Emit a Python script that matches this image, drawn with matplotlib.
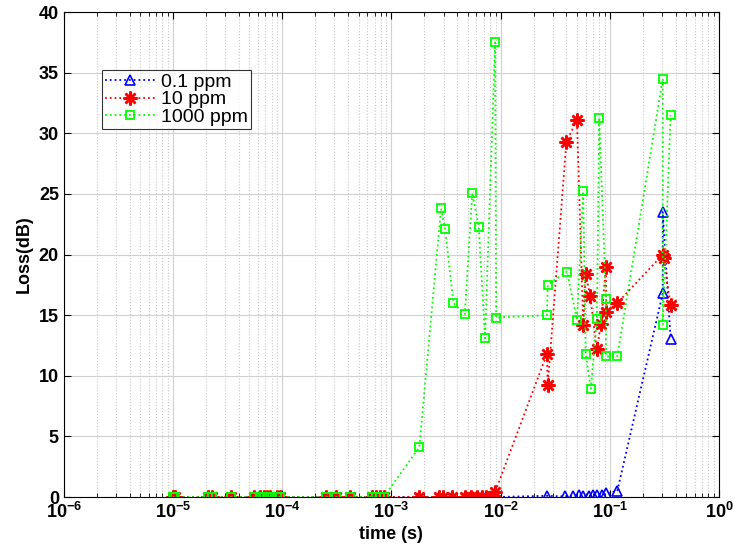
import matplotlib
matplotlib.use('Agg')
import matplotlib.pyplot as plt
import numpy as np

plt.rcParams['font.family'] = ['Liberation Sans', 'DejaVu Sans']

# shared sampling times at the start of each run (loss stays at zero)
t_early = [1.0e-5, 1.05e-5, 2.1e-5, 2.3e-5, 3.4e-5, 5.5e-5, 6.2e-5, 6.8e-5,
           7.2e-5, 7.8e-5, 9.0e-5, 9.5e-5, 2.5e-4, 3.1e-4, 4.2e-4, 6.7e-4,
           7.3e-4, 7.8e-4, 8.5e-4]
loss_early = [0.0] * len(t_early)

t_01 = t_early + [1.8e-3, 2.7e-3, 3.6e-3, 4.7e-3, 6.1e-3, 7.4e-3, 8.9e-3,
                  2.65e-2, 3.9e-2, 4.6e-2, 5.2e-2, 5.7e-2, 6.4e-2, 7.0e-2,
                  7.6e-2, 8.4e-2, 9.2e-2, 1.17e-1, 0.305, 0.305, 0.36]
loss_01 = loss_early + [0, 0, 0, 0, 0, 0, 0,
                        0.1, 0.05, 0.1, 0.15, 0.1, 0.1, 0.15,
                        0.2, 0.2, 0.3, 0.5, 16.8, 23.5, 13.0]

t_10 = t_early + [1.8e-3, 2.7e-3, 2.95e-3, 3.6e-3, 4.7e-3, 5.4e-3, 6.1e-3,
                  6.8e-3, 7.4e-3, 8.6e-3, 8.9e-3, 2.65e-2, 2.7e-2, 4.0e-2,
                  5.0e-2, 5.7e-2, 6.0e-2, 6.6e-2, 7.6e-2, 8.3e-2, 9.2e-2,
                  9.3e-2, 1.17e-1, 0.305, 0.31, 0.36]
loss_10 = loss_early + [0, 0, 0, 0, 0, 0, 0,
                        0, 0, 0.1, 0.4, 11.8, 9.2, 29.3,
                        31.1, 14.2, 18.4, 16.6, 12.2, 14.3, 19.0,
                        15.3, 16.0, 20.0, 19.7, 15.8]

t_1000 = t_early + [1.8e-3, 2.85e-3, 3.1e-3, 3.7e-3, 4.7e-3, 5.5e-3, 6.3e-3,
                    7.2e-3, 8.9e-3, 9.1e-3, 2.65e-2, 2.7e-2, 4.05e-2, 5.0e-2,
                    5.7e-2, 6.0e-2, 6.7e-2, 7.6e-2, 8.0e-2, 9.2e-2, 9.2e-2,
                    1.17e-1, 0.305, 0.305, 0.36]
loss_1000 = loss_early + [4.1, 23.8, 22.1, 16.0, 15.1, 25.1, 22.3,
                          13.1, 37.5, 14.8, 15.0, 17.5, 18.6, 14.6,
                          25.2, 11.8, 8.9, 14.7, 31.3, 16.3, 11.6,
                          11.6, 34.5, 14.2, 31.5]

fig = plt.figure(figsize=(7.33, 5.48), dpi=100)
ax = fig.add_axes([0.087, 0.093, 0.894, 0.885])

ax.plot(t_01, loss_01, color='#0000ff', linestyle=':', linewidth=1.3,
        marker='^', markerfacecolor='none', markersize=7, markeredgewidth=1.2,
        label='0.1 ppm')
# 8-armed asterisk marker
ax.plot(t_10, loss_10, color='#ff0000', linestyle=':', linewidth=1.3,
        marker=(8, 2, 0), markersize=10, markeredgewidth=1.8, label='10 ppm')
ax.plot(t_1000, loss_1000, color='#00ff00', linestyle=':', linewidth=1.3,
        marker='s', markerfacecolor='none', markersize=6, markeredgewidth=1.3,
        label='1000 ppm')

ax.set_xscale('log')
ax.set_xlim(1e-6, 1)
ax.set_ylim(0, 40)
ax.set_yticks(np.arange(0, 41, 5))

ax.grid(True, which='major', color='#d0d0d0', linestyle='-', linewidth=0.8)
ax.grid(True, which='minor', color='#c8c8c8', linestyle=':', linewidth=0.8)
ax.set_axisbelow(True)
ax.tick_params(which='both', direction='in', top=True, right=True)
ax.tick_params(which='major', labelsize=13, length=5)
ax.tick_params(which='minor', length=3)
for lbl in ax.get_xticklabels() + ax.get_yticklabels():
    lbl.set_fontweight('bold')

ax.set_xlabel('time (s)', fontsize=13, fontweight='bold', labelpad=3)
ax.set_ylabel('Loss(dB)', fontsize=13, fontweight='bold', labelpad=4)

leg = ax.legend(loc='upper left', bbox_to_anchor=(0.058, 0.88), fontsize=14,
                frameon=True, fancybox=False, edgecolor='black',
                borderpad=0.15, labelspacing=0.0, handlelength=2.6,
                handletextpad=0.3, borderaxespad=0)
leg.get_frame().set_linewidth(0.8)

fig.savefig('out.png', dpi=100)
